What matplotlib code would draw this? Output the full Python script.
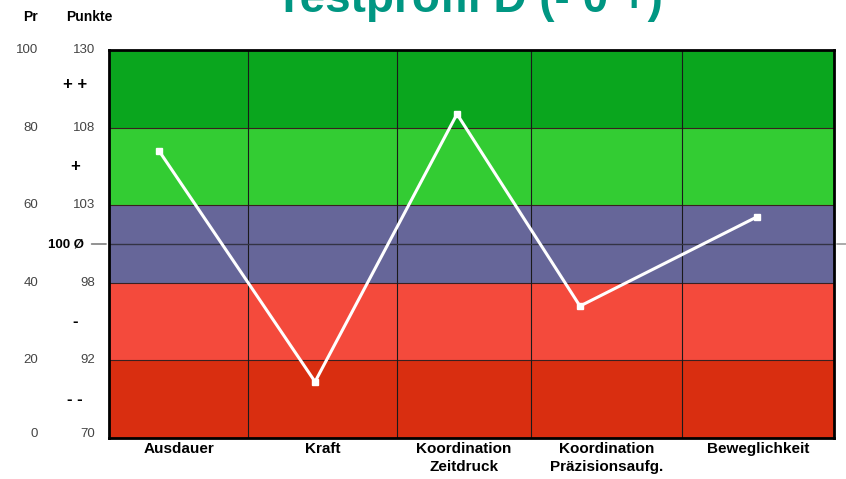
import matplotlib.pyplot as plt
import matplotlib as mpl

mpl.rcParams['font.family'] = ['Liberation Sans', 'DejaVu Sans']

# data
categories = ["Ausdauer", "Kraft", "Koordination\nZeitdruck", "Koordination\nPräzisionsaufg.", "Beweglichkeit"]
col_edges = [0, 0.959, 1.986, 2.910, 3.952, 5.0]
point_x = [0.345, 1.421, 2.40, 3.248, 4.469]
pr_values = [74, 14.5, 83.5, 34, 57]

band_edges = [0, 20, 40, 60, 80, 100]
band_colors = ['#d92e10', '#f44a3c', '#666699', '#33cc33', '#0aa61e']
pr_ticks = [100, 80, 60, 40, 20, 0]
punkte_ticks = ['130', '108', '103', '98', '92', '70']
rating_labels = ['+ +', '+', '-', '- -']
rating_pos = [91, 70, 30, 10]
mean_pr = 50

fig = plt.figure(figsize=(8.46, 4.79), dpi=100)
ax = fig.add_axes([109 / 846, 1 - 438 / 479, (834 - 109) / 846, (438 - 50) / 479])

# colour bands
for i in range(len(band_colors)):
    ax.axhspan(band_edges[i], band_edges[i + 1], color=band_colors[i], lw=0, zorder=0)
    if 0 < i:
        ax.axhline(band_edges[i], color='#3a2020', lw=0.8, zorder=1)

# column dividers
for xe in col_edges[1:-1]:
    ax.axvline(xe, color='#1a1a1a', lw=0.8, zorder=1)

# average line
ax.axhline(mean_pr, color='#333344', lw=1.0, zorder=1)
ax.annotate('', xy=(1.0, mean_pr), xycoords=('axes fraction', 'data'),
            xytext=(1.02, mean_pr), textcoords=('axes fraction', 'data'),
            arrowprops=dict(arrowstyle='-', color='#888888', lw=1))
ax.annotate('', xy=(-0.028, mean_pr), xycoords=('axes fraction', 'data'),
            xytext=(0.0, mean_pr), textcoords=('axes fraction', 'data'),
            arrowprops=dict(arrowstyle='-', color='#666666', lw=1))

# profile line
ax.plot(point_x, pr_values, color='white', lw=2.2, marker='s', ms=4, zorder=3)

ax.set_xlim(col_edges[0], col_edges[-1])
ax.set_ylim(0, 100)
ax.set_xticks([(col_edges[i] + col_edges[i + 1]) / 2 for i in range(5)])
ax.set_xticklabels(categories, fontsize=11, fontweight='bold', linespacing=1.35)
ax.tick_params(axis='x', length=0, pad=3)
ax.set_yticks([])
for sp in ax.spines.values():
    sp.set_linewidth(2)
    sp.set_color('black')

# left scales
trans = ax.get_yaxis_transform()
for pr, pk in zip(pr_ticks, punkte_ticks):
    yy = pr + (1 if pr == 0 else 0)
    ax.text(-0.098, yy, str(pr), transform=trans, ha='right', va='center', fontsize=9.5, color='#444444')
    ax.text(-0.019, yy, pk, transform=trans, ha='right', va='center', fontsize=9.5, color='#444444')
for lab, yy in zip(rating_labels, rating_pos):
    ax.text(-0.047, yy, lab, transform=trans, ha='center', va='center', fontsize=12,
            fontweight='bold', color='black')
ax.text(-0.035, mean_pr, '100 Ø', transform=trans, ha='right', va='center', fontsize=9.5,
        fontweight='bold', color='black')

fig.text(30 / 846, 1 - 17 / 479, 'Pr', ha='center', va='center', fontsize=10, fontweight='bold')
fig.text(89 / 846, 1 - 17 / 479, 'Punkte', ha='center', va='center', fontsize=10, fontweight='bold')

fig.text(469 / 846, 1 - 12 / 479, 'Testprofil D (- 0 +)', ha='center', va='baseline',
         fontsize=33, fontweight='bold', color='#009682')

fig.savefig('out.png', dpi=100)
